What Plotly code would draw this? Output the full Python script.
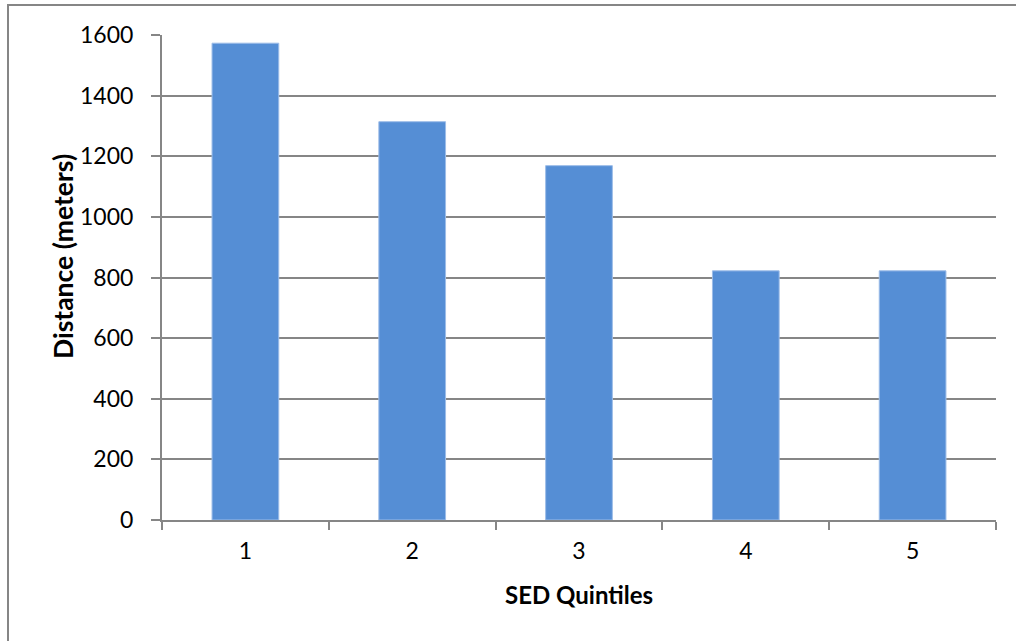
import plotly.graph_objects as go

# Mean distance by SED quintile
quintiles = ["1", "2", "3", "4", "5"]
distance_m = [1573, 1314, 1169, 822, 822]
y_ticks = [0, 200, 400, 600, 800, 1000, 1200, 1400, 1600]

W, H = 1016, 641
L, R, T, B = 162, 20, 35, 121
pw, ph = W - L - R, H - T - B

FONT = "Lato, Carlito, Calibri, sans-serif"
GRID = "#868686"

fig = go.Figure(
    go.Bar(
        x=quintiles,
        y=distance_m,
        marker=dict(color="#558ED5", line=dict(color="#9DBDE8", width=1)),
        width=0.4,
    )
)

fig.update_layout(
    width=W,
    height=H,
    margin=dict(l=L, r=R, t=T, b=B),
    paper_bgcolor="white",
    plot_bgcolor="white",
    showlegend=False,
    font=dict(family=FONT, size=23, color="#000000"),
    xaxis=dict(
        type="category",
        showline=True,
        linecolor=GRID,
        linewidth=2,
        ticks="outside",
        tickson="boundaries",
        ticklen=8,
        tickwidth=2,
        tickcolor=GRID,
        showgrid=False,
        ticklabelstandoff=9,
    ),
    yaxis=dict(
        range=[0, 1600],
        tickvals=y_ticks,
        showline=True,
        linecolor=GRID,
        linewidth=2,
        ticks="outside",
        ticklen=9,
        tickwidth=2,
        tickcolor=GRID,
        showgrid=True,
        gridcolor=GRID,
        gridwidth=2,
        zeroline=False,
        ticklabelstandoff=13,
    ),
    annotations=[
        dict(
            text="<b>SED Quintiles</b>",
            xref="paper", yref="paper",
            x=0.5, y=-(594 - (T + ph)) / ph,
            xanchor="center", yanchor="middle",
            showarrow=False, font=dict(family=FONT, size=24),
        ),
        dict(
            text="<b>Distance (meters)</b>",
            xref="paper", yref="paper",
            x=(63 - L) / pw, y=1 - (257 - T) / ph,
            xanchor="center", yanchor="middle",
            textangle=-90,
            showarrow=False, font=dict(family=FONT, size=26.5),
        ),
    ],
    shapes=[
        dict(
            type="rect",
            xref="paper", yref="paper",
            x0=(8 - L) / pw, x1=1.2,
            y0=-0.4, y1=1 + (T - 5) / ph,
            line=dict(color=GRID, width=2),
            fillcolor="rgba(0,0,0,0)",
            layer="below",
        )
    ],
)

fig.write_html("out.html")
